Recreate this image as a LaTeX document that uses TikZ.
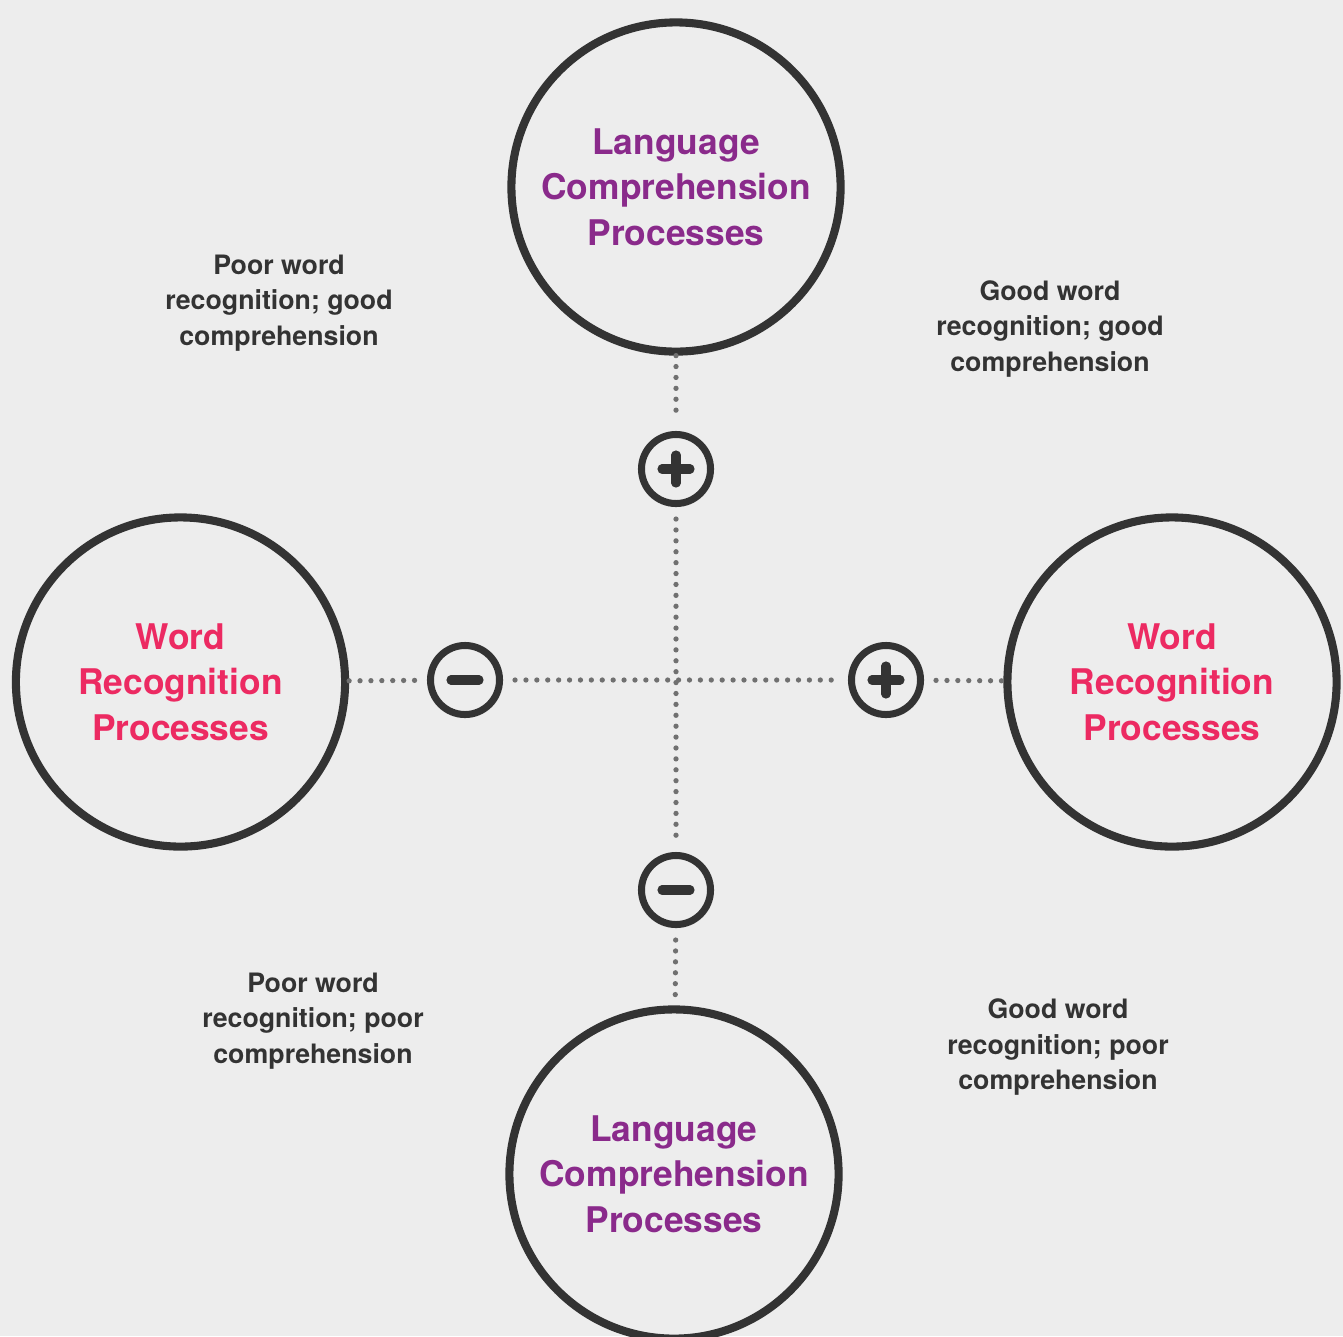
\documentclass[tikz,border=0pt]{standalone}
\usepackage{fontspec}
\setmainfont{TeX Gyre Heros}
\usepackage{tikz}
\usetikzlibrary{positioning}
\definecolor{bg}{HTML}{EDEDED}
\definecolor{ink}{HTML}{333333}
\definecolor{dotgray}{HTML}{707070}
\definecolor{langcol}{HTML}{8A2A8B}
\definecolor{wordcol}{HTML}{EC2A62}
\tikzset{
bigcircle/.style={circle,draw=ink,line width=2.3pt,minimum size=3.29cm,inner sep=0pt,align=center,font=\fontsize{10.05}{13}\selectfont\bfseries},
signbox/.style={circle,draw=ink,line width=2pt,minimum size=0.69cm,inner sep=0pt},
plussign/.style={signbox,path picture={
  \draw[ink,line width=2.6pt,line cap=round]
  ([xshift=-0.14cm]path picture bounding box.center) -- ([xshift=0.14cm]path picture bounding box.center)
  ([yshift=-0.14cm]path picture bounding box.center) -- ([yshift=0.14cm]path picture bounding box.center);}},
minussign/.style={signbox,path picture={
  \draw[ink,line width=2.6pt,line cap=round]
  ([xshift=-0.14cm]path picture bounding box.center) -- ([xshift=0.14cm]path picture bounding box.center);}},
dotline/.style={dotgray,line width=1.5pt,line cap=round,dash pattern=on 0pt off 3.1pt},
gapstart/.style={shorten <=0.12cm},
gapend/.style={shorten >=0.12cm},
quadtext/.style={align=center,text=ink,font=\fontsize{7.6}{10}\selectfont\bfseries}
}
\begin{document}
\begin{tikzpicture}[x=0.01cm,y=-0.01cm]
\useasboundingbox (0,0) rectangle (1343,1336);
\clip (0,0) rectangle (1343,1336);
\fill[bg] (0,0) rectangle (1343,1336);
% circles
\node[bigcircle,text=langcol] (L1) at (676,187) {Language\\Comprehension\\Processes};
\node[bigcircle,text=langcol] (L2) at (674,1174) {Language\\Comprehension\\Processes};
\node[bigcircle,text=wordcol] (W1) at (180.5,682) {Word\\Recognition\\Processes};
\node[bigcircle,text=wordcol] (W2) at (1172,682) {Word\\Recognition\\Processes};
% signs
\node[plussign] (P1) at (676,469) {};
\node[minussign] (M2) at (676,890) {};
\node[minussign] (M1) at (465,680) {};
\node[plussign] (P2) at (886,680) {};
% axes
\path[dotline]
(L1) edge[gapend] (P1)
(P1) edge[gapstart,gapend] (M2)
(M2) edge[gapstart] (L2)
(W1) edge[gapend] (M1)
(M1) edge[gapstart,gapend] (P2)
(P2) edge[gapstart] (W2);
% quadrants
\node[quadtext] (Q1) at (279,303) {Poor word\\recognition; good\\comprehension};
\node[quadtext] (Q2) at (1050,329) {Good word\\recognition; good\\comprehension};
\node[quadtext] (Q3) at (313,1021) {Poor word\\recognition; poor\\comprehension};
\node[quadtext] (Q4) at (1058,1047) {Good word\\recognition; poor\\comprehension};
\end{tikzpicture}
\end{document}
